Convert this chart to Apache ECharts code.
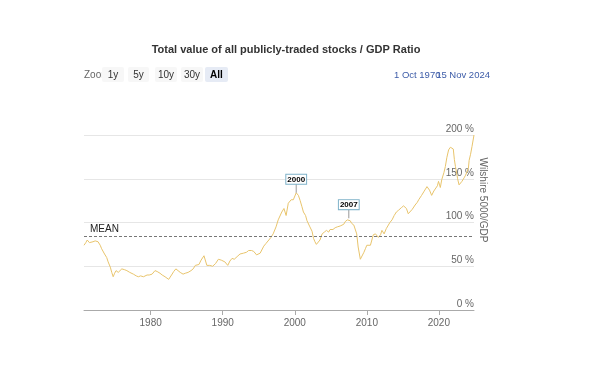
<!DOCTYPE html>
<html>
<head>
<meta charset="utf-8">
<script src="https://cdn.jsdelivr.net/npm/echarts@6/dist/echarts.min.js"></script>
<style>html,body{margin:0;padding:0;background:#fff}#c{width:600px;height:390px}</style>
</head>
<body>
<div id="c"></div>
<script>
var years = [1970.75,1971.0,1971.2,1971.5,1971.7,1972.0,1972.3,1972.7,1973.0,1973.2,1973.6,1973.9,1974.1,1974.4,1974.6,1974.8,1975.0,1975.2,1975.5,1975.75,1976.0,1976.4,1976.7,1977.1,1977.6,1978.0,1978.3,1978.6,1979.0,1979.5,1979.8,1980.2,1980.6,1980.9,1981.3,1981.6,1982.0,1982.5,1982.9,1983.2,1983.5,1983.8,1984.1,1984.5,1984.8,1985.2,1985.6,1985.9,1986.2,1986.4,1986.7,1987.0,1987.4,1987.6,1987.8,1988.2,1988.6,1989.0,1989.4,1989.8,1990.3,1990.7,1991.0,1991.3,1991.6,1992.0,1992.4,1992.9,1993.3,1993.6,1994.0,1994.3,1994.7,1995.2,1995.7,1996.0,1996.4,1996.7,1997.0,1997.4,1997.7,1998.2,1998.5,1998.8,1999.1,1999.5,1999.8,2000.2,2000.5,2000.75,2001.0,2001.2,2001.5,2001.7,2002.1,2002.4,2002.6,2002.8,2003.0,2003.2,2003.5,2003.8,2004.1,2004.4,2004.7,2004.9,2005.3,2005.6,2005.9,2006.3,2006.5,2006.8,2007.0,2007.3,2007.5,2007.7,2007.9,2008.2,2008.4,2008.6,2008.8,2009.1,2009.3,2009.6,2009.8,2010.0,2010.25,2010.5,2010.7,2010.9,2011.2,2011.4,2011.6,2011.9,2012.1,2012.4,2012.7,2012.9,2013.2,2013.5,2013.8,2014.1,2014.4,2014.8,2015.1,2015.5,2015.75,2015.95,2016.3,2016.7,2017.0,2017.2,2017.6,2017.9,2018.1,2018.35,2018.7,2019.0,2019.3,2019.5,2019.8,2019.95,2020.1,2020.2,2020.4,2020.7,2020.9,2021.1,2021.35,2021.6,2021.8,2022.0,2022.15,2022.3,2022.5,2022.6,2022.8,2023.0,2023.2,2023.5,2023.7,2023.9,2024.1,2024.2,2024.4,2024.6,2024.875];
var ratioValues = [74,77,80,77,75,78,79,78,74,70,64,60,55,49,43,38,42,45,43,45,47,46,45,43,41,39,38,39,38,40,40,41,45,44,42,40,38,35,40,44,47,45,43,41,42,43,45,47,51,53,52,57,62,63,51,51,50,53,58,57,55,51,56,59,58,61,64,65,66,68,68,67,63,65,73,76,80,83,87,95,103,112,116,108,122,126,126,134,131,125,118,112,108,102,95,90,82,78,75,74,80,87,89,91,89,92,92,94,95,96,97,98,101,103,105,102,99,97,95,87,72,58,60,66,70,74,76,74,80,86,87,85,83,86,91,87,93,95,100,103,108,112,114,117,119,116,110,108,115,120,123,126,131,135,137,141,137,131,136,137,142,147,143,140,149,157,164,174,183,186,187,184,172,164,155,150,143,145,147,151,154,152,162,171,178,187,200];
var meanValue = 84;
var flagYears = [2000.2, 2007.5];
var flagValues = [134, 105];
var flagLabels = ['2000', '2007'];
var xTickYears = [1980, 1990, 2000, 2010, 2020];
var rangeButtons = ['1y', '5y', '10y', '30y', 'All'];
var titleText = 'Total value of all publicly-traded stocks / GDP Ratio';
var yAxisTitle = 'Wilshire 5000/GDP';
var dateFrom = '1 Oct 1970';
var dateTo = '15 Nov 2024';

var seriesData = years.map(function (y, i) { return [y, ratioValues[i]]; });
var flagData = flagYears.map(function (y, i) { return { coord: [y, flagValues[i]], name: flagLabels[i] }; });

var FONT = 'Liberation Sans, Arial, sans-serif';
var btnX = [102, 128, 155, 181, 205];
var btnW = [22, 21, 22, 22, 23];
var graphics = [
  { type: 'text', x: 286, y: 50, style: { text: titleText, font: 'bold 11px ' + FONT, fill: '#333', textAlign: 'center', textVerticalAlign: 'middle' } },
  { type: 'text', x: 84, y: 75, style: { text: 'Zoom', font: '10px ' + FONT, fill: '#666', textVerticalAlign: 'middle' } }
];
rangeButtons.forEach(function (b, i) {
  var sel = b === 'All';
  graphics.push({ type: 'rect', shape: { x: btnX[i], y: 67, width: btnW[i], height: 15, r: 2 }, style: { fill: sel ? '#e6ebf5' : '#f7f7f7' } });
  graphics.push({ type: 'text', x: btnX[i] + btnW[i] / 2, y: 75, style: { text: b, font: (sel ? 'bold ' : '') + '10px ' + FONT, fill: sel ? '#000' : '#333', textAlign: 'center', textVerticalAlign: 'middle' } });
});
graphics.push({ type: 'text', x: 394, y: 75, style: { text: dateFrom, font: '9.5px ' + FONT, fill: '#3d5ca8', textVerticalAlign: 'middle' } });
graphics.push({ type: 'text', x: 490, y: 75, style: { text: dateTo, font: '9.5px ' + FONT, fill: '#3d5ca8', textAlign: 'right', textVerticalAlign: 'middle' } });
graphics.push({ type: 'text', x: 483, y: 200, rotation: -Math.PI / 2, style: { text: yAxisTitle, font: '10px ' + FONT, fill: '#666', textAlign: 'center', textVerticalAlign: 'middle' } });

var chart = echarts.init(document.getElementById('c'), null, { renderer: 'canvas' });
chart.setOption({
  backgroundColor: '#fff',
  animation: false,
  textStyle: { fontFamily: FONT },
  grid: { left: 84, right: 126, top: 135, bottom: 80 },
  xAxis: {
    type: 'value', min: 1970.75, max: 2024.875,
    splitLine: { show: false },
    axisLine: { lineStyle: { color: '#aaa' } },
    axisTick: { show: true, customValues: xTickYears, length: 5, lineStyle: { color: '#aaa' } },
    axisLabel: { customValues: xTickYears, color: '#666', fontSize: 10, margin: 8, formatter: function (v) { return String(Math.round(v)); } }
  },
  yAxis: {
    type: 'value', position: 'right', min: 0, max: 200, interval: 50,
    splitLine: { lineStyle: { color: '#e6e6e6' } },
    axisLine: { show: false }, axisTick: { show: false },
    axisLabel: { inside: true, margin: 0, verticalAlign: 'bottom', color: '#666', fontSize: 10, lineHeight: 12, formatter: '{value} %' }
  },
  graphic: graphics,
  series: [{
    type: 'line', data: seriesData, showSymbol: false, symbol: 'none',
    lineStyle: { color: '#e8c46c', width: 1 },
    markLine: {
      silent: true, symbol: 'none',
      lineStyle: { type: [3, 2], color: '#777', width: 1 },
      label: { show: true, position: 'insideStartTop', formatter: 'MEAN', color: '#222', fontSize: 10, distance: [6, 2] },
      data: [{ yAxis: meanValue }]
    },
    markPoint: {
      symbol: 'rect', symbolSize: [1, 9], symbolOffset: [0, -4.5],
      itemStyle: { color: '#999' },
      label: { show: true, position: 'top', distance: 0, formatter: '{b}', color: '#000', fontWeight: 'bold', fontSize: 8,
        backgroundColor: '#fff', borderColor: '#7fb2c9', borderWidth: 1, padding: [1, 1, 0, 1] },
      data: flagData
    }
  }]
});
</script>
</body>
</html>
